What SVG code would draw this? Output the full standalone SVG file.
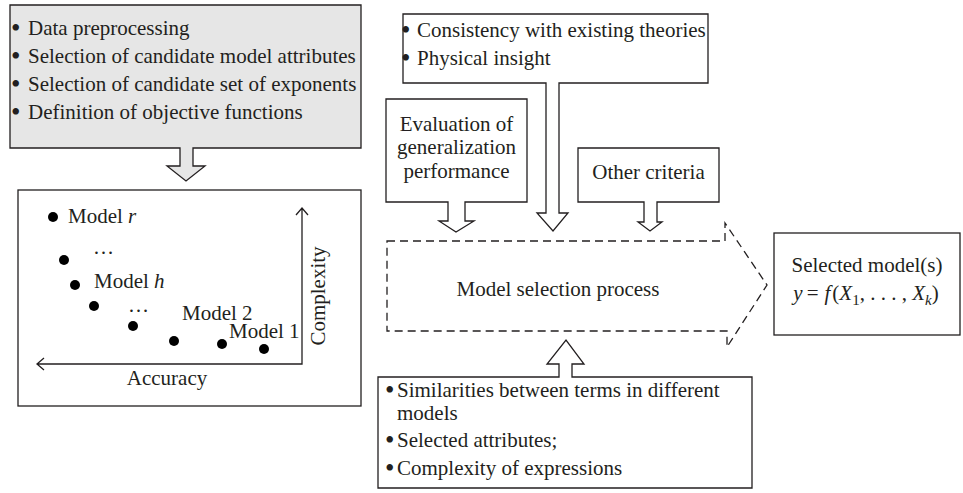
<svg xmlns="http://www.w3.org/2000/svg" width="963" height="493" viewBox="0 0 963 493">
<style>
text{font-family:"Liberation Serif","Times New Roman",serif;font-size:21px;fill:#231f20}
.b{font-size:27px}
.box{fill:#fff;stroke:#231f20;stroke-width:1.3}
.gray{fill:#e6e6e6;stroke:#231f20;stroke-width:1.3}
.dash{fill:none;stroke:#231f20;stroke-width:1.3;stroke-dasharray:8 5}
.ax{fill:none;stroke:#231f20;stroke-width:1.3}
.c{text-anchor:middle}
.i{font-style:italic}
</style>
<g id="preprocessing">
<path class="gray" d="M10,5 H361 V148 H193 V166 H205 L186,181 L167,166 H180 V148 H10 Z"/>
<text class="b" x="11" y="37">•</text><text x="28" y="35">Data preprocessing</text>
<text class="b" x="11" y="65">•</text><text x="28" y="63">Selection of candidate model attributes</text>
<text class="b" x="11" y="93">•</text><text x="28" y="91">Selection of candidate set of exponents</text>
<text class="b" x="11" y="121">•</text><text x="28" y="119">Definition of objective functions</text>
</g>
<g id="pareto">
<rect class="box" x="18" y="190" width="343" height="216"/>
<path class="ax" d="M302,209 V364 H37 M296,215 L302,208 L308,215 M44,358 L37,364 L44,370"/>
<g fill="#000">
<circle cx="53" cy="217" r="5"/><circle cx="64" cy="260" r="5"/><circle cx="75" cy="285" r="5"/>
<circle cx="94" cy="306" r="5"/><circle cx="133" cy="326" r="5"/><circle cx="174" cy="341" r="5"/>
<circle cx="222" cy="344" r="5"/><circle cx="264" cy="349" r="5"/>
</g>
<text x="68" y="223">Model <tspan class="i">r</tspan></text>
<text x="93" y="254">…</text>
<text x="94" y="288">Model <tspan class="i">h</tspan></text>
<text x="128" y="312">…</text>
<text x="182" y="320">Model 2</text>
<text x="229" y="338">Model 1</text>
<text x="167" y="385" class="c">Accuracy</text>
<text class="c" transform="translate(325,296) rotate(-90)">Complexity</text>
</g>
<g id="consistency">
<path class="box" d="M403,14 H708 V83 H559 V213 H568 L553,231 L537,213 H546 V83 H403 Z"/>
<text class="b" x="401" y="39">•</text><text x="417" y="37">Consistency with existing theories</text>
<text class="b" x="401" y="67">•</text><text x="417" y="65">Physical insight</text>
</g>
<g id="evaluation">
<path class="box" d="M386,99 H527 V202 H465 V221 H474 L456,232 L439,221 H448 V202 H386 Z"/>
<text x="456.5" y="131" class="c">Evaluation of</text>
<text x="456.5" y="154" class="c">generalization</text>
<text x="456.5" y="178" class="c">performance</text>
</g>
<g id="other">
<path class="box" d="M578,148 H719 V202 H657 V222 H662 L650,231 L638,222 H644 V202 H578 Z"/>
<text x="648.5" y="179" class="c">Other criteria</text>
</g>
<g id="process">
<path class="dash" d="M387,241 H725 V223 L767,285 L727,347 V331 H387 Z"/>
<text x="558" y="296" class="c">Model selection process</text>
</g>
<g id="similarities">
<path class="box" d="M378,377 H559 V364 H547 L566,340 L584,364 H572 V377 H752 V488 H378 Z"/>
<text class="b" x="385" y="399">•</text><text x="397" y="397">Similarities between terms in different</text>
<text x="397" y="420">models</text>
<text class="b" x="385" y="449">•</text><text x="397" y="447">Selected attributes;</text>
<text class="b" x="385" y="477">•</text><text x="397" y="475">Complexity of expressions</text>
</g>
<g id="selected">
<rect class="box" x="774" y="233" width="186" height="102"/>
<text x="867" y="272" class="c">Selected model(s)</text>
<text x="866" y="300" class="c"><tspan class="i">y</tspan><tspan dx="4">=</tspan><tspan class="i" dx="6">f</tspan><tspan dx="2">(</tspan><tspan class="i">X</tspan><tspan dy="5" font-size="15">1</tspan><tspan dy="-5">, . . . , </tspan><tspan class="i">X</tspan><tspan dy="5" font-size="15" class="i">k</tspan><tspan dy="-5">)</tspan></text>
</g>
<g id="connectors"></g>
</svg>
